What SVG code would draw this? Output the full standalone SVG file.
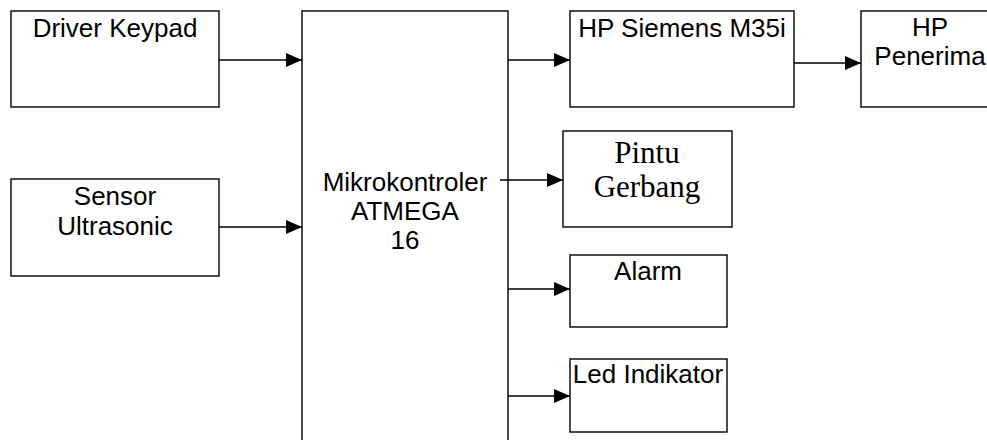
<svg xmlns="http://www.w3.org/2000/svg" width="987" height="440" viewBox="0 0 987 440">
<style>
.box{fill:#fff;stroke:#000;stroke-width:1.4}
.t{font-family:"Liberation Sans",Arial,sans-serif;font-size:26px;fill:#000;text-anchor:middle}
.s{font-family:"Liberation Serif","Times New Roman",serif;font-size:31px;fill:#000;text-anchor:middle}
.c{stroke:#000;stroke-width:1.4;fill:none}
</style>
<defs>
<marker id="ah" markerWidth="16" markerHeight="14" refX="16" refY="7" orient="auto" markerUnits="userSpaceOnUse">
<path d="M0,0 L16,7 L0,14 Z" fill="#000"/>
</marker>
</defs>
<rect width="987" height="440" fill="#fff"/>
<g id="driver-keypad"><rect class="box" x="11" y="11" width="208" height="96"/><text class="t" x="115" y="37">Driver Keypad</text></g>
<g id="sensor-ultrasonic"><rect class="box" x="11" y="179" width="208" height="97"/><text class="t" x="115" y="205">Sensor</text><text class="t" x="115" y="235">Ultrasonic</text></g>
<g id="mikrokontroler"><rect class="box" x="302" y="11" width="206" height="450"/><text class="t" x="405" y="191">Mikrokontroler</text><text class="t" x="405" y="220">ATMEGA</text><text class="t" x="405" y="249">16</text></g>
<g id="hp-siemens"><rect class="box" x="570" y="11" width="224" height="96"/><text class="t" x="682" y="37">HP Siemens M35i</text></g>
<g id="hp-penerima"><rect class="box" x="861" y="11" width="140" height="96"/><text class="t" x="930" y="36">HP</text><text class="t" x="930" y="65">Penerima</text></g>
<g id="pintu-gerbang"><rect class="box" x="563" y="131" width="169" height="96"/><text class="s" x="647" y="163">Pintu</text><text class="s" x="647" y="197">Gerbang</text></g>
<g id="alarm"><rect class="box" x="570" y="255" width="157" height="72"/><text class="t" x="648" y="280">Alarm</text></g>
<g id="led-indikator"><rect class="box" x="570" y="359" width="157" height="73"/><text class="t" x="648" y="383">Led Indikator</text></g>
<g id="connectors">
<line class="c" x1="219" y1="60" x2="302" y2="60" marker-end="url(#ah)"/>
<line class="c" x1="219" y1="227" x2="302" y2="227" marker-end="url(#ah)"/>
<line class="c" x1="508" y1="60" x2="570" y2="60" marker-end="url(#ah)"/>
<line class="c" x1="794" y1="63" x2="861" y2="63" marker-end="url(#ah)"/>
<line class="c" x1="500" y1="180" x2="563" y2="180" marker-end="url(#ah)"/>
<line class="c" x1="508" y1="289" x2="570" y2="289" marker-end="url(#ah)"/>
<line class="c" x1="508" y1="396" x2="570" y2="396" marker-end="url(#ah)"/>
</g>
</svg>
